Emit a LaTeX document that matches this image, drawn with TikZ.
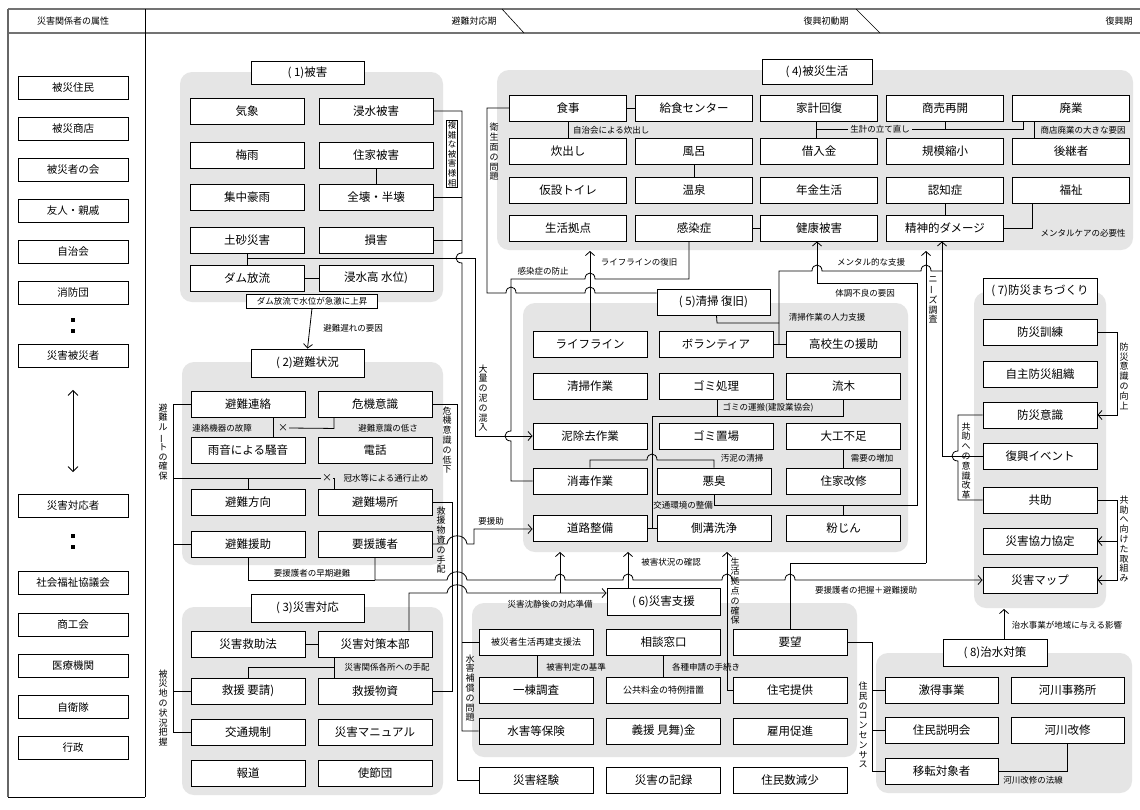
\documentclass[tikz,border=0pt]{standalone}
\usepackage{fontspec}
\setmainfont{Noto Sans CJK JP}
\usetikzlibrary{arrows.meta}
\begin{document}
\begin{tikzpicture}[x=1pt,y=-1pt,
  bx/.style={draw, fill=white, line width=0.9pt, minimum width=114pt, minimum height=26pt, inner sep=1pt, font=\fontsize{11.5}{13}\selectfont},
  bx4/.style={bx, minimum width=117pt},
  sbx/.style={bx, font=\fontsize{9}{11}\selectfont},
  lb/.style={draw, fill=white, line width=0.8pt, minimum width=110pt, minimum height=23pt, inner sep=1pt, font=\fontsize{10.5}{12}\selectfont},
  grp/.style={fill=black!10, rounded corners=12pt},
  lab/.style={font=\fontsize{8.5}{10}\selectfont, inner sep=1pt},
  vl/.style={font=\fontsize{9}{9.8}\selectfont, inner sep=1pt, align=center},
  ln/.style={line width=0.8pt},
  ar/.style={ln, -{Straight Barb[length=4pt,width=9pt]}},
  hb/.style n args={2}{insert path={-- ({#1-5},#2) .. controls ({#1-5},{#2-8}) and ({#1+5},{#2-8}) .. ({#1+5},#2)}},
  hbl/.style n args={2}{insert path={-- ({#1+5},#2) .. controls ({#1+5},{#2-8}) and ({#1-5},{#2-8}) .. ({#1-5},#2)}},
  hbw/.style n args={2}{insert path={-- ({#1-10},#2) .. controls ({#1-9},{#2-11}) and ({#1+9},{#2-11}) .. ({#1+10},#2)}},
  vb/.style n args={2}{insert path={-- (#1,{#2-5}) .. controls ({#1-8},{#2-5}) and ({#1-8},{#2+5}) .. (#1,{#2+5})}},
]
\useasboundingbox (0,0) rectangle (1140,809);
\fill[white] (0,0) rectangle (1140,809);

% ---------- frame and header ----------
\draw[line width=1.6pt, black!55] (8,9) -- (1140,9);
\draw[line width=1.6pt, black!55] (8,33) -- (1140,33);
\draw[line width=1.4pt, black!60] (8,9) -- (8,797);
\draw[ln] (145,9) -- (145,797);
\draw[ln] (8,797) -- (145,797);
\node[lab, font=\fontsize{9}{10}\selectfont] (h0) at (73,21) {災害関係者の属性};
\node[lab, font=\fontsize{9}{10}\selectfont] (h1) at (474,21) {避難対応期};
\node[lab, font=\fontsize{9}{10}\selectfont] (h2) at (826,21) {復興初動期};
\node[lab, font=\fontsize{9}{10}\selectfont] (h3) at (1119,21) {復興期};
\draw[line width=0.6pt] (502,9) -- (524,33);
\draw[line width=0.6pt] (856,9) -- (880,33);

% ---------- left column ----------
\node[lb] (p1) at (73,88) {被災住民};
\node[lb] (p2) at (73,129) {被災商店};
\node[lb] (p3) at (73,170) {被災者の会};
\node[lb] (p4) at (73,211) {友人・親戚};
\node[lb] (p5) at (73,252) {自治会};
\node[lb] (p6) at (73,293) {消防団};
\fill (71,318) rectangle (75,322);
\fill (71,329) rectangle (75,333);
\node[lb] (p7) at (73,356) {災害被災者};
\node[lb] (p8) at (73,506) {災害対応者};
\fill (71,534) rectangle (75,538);
\fill (71,545) rectangle (75,549);
\node[lb] (p9) at (73,583) {社会福祉協議会};
\node[lb] (p10) at (73,625) {商工会};
\node[lb] (p11) at (73,666) {医療機関};
\node[lb] (p12) at (73,707) {自衛隊};
\node[lb] (p13) at (73,748) {行政};
\draw[ln, {Straight Barb[length=5pt,width=10pt]}-{Straight Barb[length=5pt,width=10pt]}] ([yshift=-22pt]p7.south) -- ([yshift=22pt]p8.north);

% ---------- group backgrounds ----------
\path[grp] (180,72) rectangle (443,302);
\path[grp] (182,362) rectangle (443,565);
\path[grp] (182,607) rectangle (443,795);
\path[grp] (497,70) rectangle (1133,250);
\path[grp] (523,303) rectangle (908,552);
\path[grp] (472,603) rectangle (857,757);
\path[grp] (974,292) rectangle (1106,608);
\path[grp] (876,653) rectangle (1132,793);

% ---------- (1) ----------
\node[bx, minimum width=113pt, minimum height=23pt] (t1) at (307.5,73) {( 1)被害};
\node[bx] (kisho) at (247,111) {気象};
\node[bx] (shinsui) at (376,111) {浸水被害};
\node[bx] (baiu) at (247,155) {梅雨};
\node[bx] (jyuka) at (376,155) {住家被害};
\node[bx] (shuchu) at (247,197) {集中豪雨};
\node[bx] (zenkai) at (376,197) {全壊・半壊};
\node[bx] (dosha) at (247,240) {土砂災害};
\node[bx] (songai) at (376,240) {損害};
\node[bx] (dam) at (247,278) {ダム放流};
\node[bx] (suii) at (376,278) {浸水高 水位)};
\node[draw, fill=white, line width=0.7pt, lab, minimum width=131pt, minimum height=14pt] (damlab) at (312,301) {ダム放流で水位が急激に上昇};
\node[vl, draw, fill=white, line width=0.6pt, font=\fontsize{8.5}{9.6}\selectfont] (fukuzatsu) at (452,154) {複\\雑\\な\\被\\害\\様\\相};

% ---------- (2) ----------
\node[bx, minimum width=113pt, minimum height=28pt] (t2) at (307.5,363) {( 2)避難状況};
\node[bx] (renraku) at (248,404) {避難連絡};
\node[bx] (kiki) at (375,404) {危機意識};
\node[bx] (amaoto) at (248,450) {雨音による騒音};
\node[bx] (denwa) at (375,450) {電話};
\node[bx] (hoko) at (248,502) {避難方向};
\node[bx] (basho) at (375,502) {避難場所};
\node[bx] (enjo) at (248,544) {避難援助};
\node[bx] (yoengo) at (375,544) {要援護者};
\node[lab, font=\fontsize{10}{10}\selectfont] (x1) at (283,428) {×};
\node[lab, font=\fontsize{10}{10}\selectfont] (x2) at (327,478) {×};

% ---------- (3) ----------
\node[bx, minimum width=113pt, minimum height=28pt] (t3) at (307.5,608) {( 3)災害対応};
\node[bx] (kyujoho) at (248,644) {災害救助法};
\node[bx] (honbu) at (375,644) {災害対策本部};
\node[bx] (yosei) at (248,691) {救援 要請)};
\node[bx] (busshi) at (375,691) {救援物資};
\node[bx] (kotsu) at (248,732) {交通規制};
\node[bx] (manual) at (375,732) {災害マニュアル};
\node[bx] (hodo) at (248,773) {報道};
\node[bx] (shisetsu) at (375,773) {使節団};

% ---------- (4) ----------
\node[bx, minimum width=110pt, minimum height=25pt] (t4) at (817,71.5) {( 4)被災生活};
\node[bx4] (shokuji) at (568,108) {食事};
\node[bx4] (kyushoku) at (694,108) {給食センター};
\node[bx4] (kakei) at (819,108) {家計回復};
\node[bx4] (shobai) at (945,108) {商売再開};
\node[bx4] (haigyo) at (1071,108) {廃業};
\node[bx4] (takidashi) at (568,151) {炊出し};
\node[bx4] (furo) at (694,151) {風呂};
\node[bx4] (kariire) at (819,151) {借入金};
\node[bx4] (kibo) at (945,151) {規模縮小};
\node[bx4] (koukei) at (1071,151) {後継者};
\node[bx4] (kasetsu) at (568,190) {仮設トイレ};
\node[bx4] (onsen) at (694,190) {温泉};
\node[bx4] (nenkin) at (819,190) {年金生活};
\node[bx4] (ninchi) at (945,190) {認知症};
\node[bx4] (fukushi) at (1071,190) {福祉};
\node[bx4] (kyoten) at (568,228) {生活拠点};
\node[bx4] (kansen) at (694,228) {感染症};
\node[bx4] (kenko) at (819,228) {健康被害};
\node[bx4] (seishin) at (945,228) {精神的ダメージ};

% ---------- (5) ----------
\node[bx, minimum width=113pt] (t5) at (713.5,302) {( 5)清掃 復旧)};
\node[bx] (lifeline) at (590,344) {ライフライン};
\node[bx] (volunteer) at (716,344) {ボランティア};
\node[bx] (koukou) at (843.5,344) {高校生の援助};
\node[bx] (seiso) at (590,386) {清掃作業};
\node[bx] (gomi) at (716,386) {ゴミ処理};
\node[bx] (ryuboku) at (843.5,386) {流木};
\node[bx] (doro) at (590,436) {泥除去作業};
\node[bx] (okiba) at (716,436) {ゴミ置場};
\node[bx] (daiku) at (843.5,436) {大工不足};
\node[bx] (shodoku) at (590,481) {消毒作業};
\node[bx] (akushu) at (714,481) {悪臭};
\node[bx] (kaishu5) at (843.5,481) {住家改修};
\node[bx] (doroseibi) at (590,528) {道路整備};
\node[bx] (sokko) at (714,528) {側溝洗浄};
\node[bx] (funjin) at (843.5,528) {粉じん};

% ---------- (6) ----------
\node[bx, minimum width=113pt, minimum height=27pt] (t6) at (663.5,601.5) {( 6)災害支援};
\node[sbx] (saiken) at (536,642) {被災者生活再建支援法};
\node[bx] (sodan) at (663.5,642) {相談窓口};
\node[bx] (yobo) at (790,642) {要望};
\node[bx] (ittou) at (536,690) {一棟調査};
\node[sbx] (koukyo) at (663.5,690) {公共料金の特例措置};
\node[bx] (jutaku) at (790,690) {住宅提供};
\node[bx] (suigai) at (536,731) {水害等保険};
\node[bx] (gien) at (663.5,731) {義援 見舞)金};
\node[bx] (koyo) at (790,731) {雇用促進};
\node[bx] (keiken) at (536,780) {災害経験};
\node[bx] (kiroku) at (663.5,780) {災害の記録};
\node[bx] (genshou) at (790,780) {住民数減少};

% ---------- (7) ----------
\node[bx] (t7) at (1040,291) {( 7)防災まちづくり};
\node[bx] (kunren) at (1040,332) {防災訓練};
\node[bx] (jishu) at (1040,374) {自主防災組織};
\node[bx] (ishiki) at (1040,415) {防災意識};
\node[bx] (event) at (1040,456) {復興イベント};
\node[bx] (kyojo) at (1040,500) {共助};
\node[bx] (kyoryoku) at (1040,541) {災害協力協定};
\node[bx] (smap) at (1040,580) {災害マップ};

% ---------- (8) ----------
\node[bx, minimum width=104pt, minimum height=27pt] (t8) at (995,652.5) {( 8)治水対策};
\node[bx, minimum width=113pt] (gekitoku) at (941.5,690) {激得事業};
\node[bx, minimum width=113pt] (jimusho) at (1067.5,690) {河川事務所};
\node[bx, minimum width=113pt] (setsumei) at (941.5,730) {住民説明会};
\node[bx, minimum width=113pt] (kaishu8) at (1067.5,730) {河川改修};
\node[bx, minimum width=113pt] (iten) at (941.5,771) {移転対象者};

% ================= connectors =================
% (1)
\draw[ln] (jyuka) -- (zenkai);
\draw[ln] (dam) -- (suii);
\draw[ln] (dosha) -- (dam);
\draw[ln] (shinsui.east) -- (462,111) [vb={462}{258}] -- (462,731) -- (suigai.west);
\draw[ln] (462,642) -- (saiken.west);
\draw[ln] (zenkai.east) -- (462,197);
\draw[ln] (songai.east) -- (462,240);
\draw[ar] (247,258) -- (475,258) -- (475,436) -- (doro.west);
\draw[ar] (damlab.south) -- (t2.north);
\node[lab] (l_okure) at (353,328) {避難遅れの要因};
\node[vl] (l_doro) at (483,398) {大\\量\\の\\泥\\の\\混\\入};

% (2)
\draw[ln] ([xshift=25pt]renraku.south) -- ([xshift=25pt]amaoto.north);
\draw[ln] ([xshift=-41pt]kiki.south) -- ++(0,11) -- (x1.east);
\node[lab] (l_kosho) at (222,428) {連絡機器の故障};
\node[lab] (l_hikusa) at (388,428) {避難意識の低さ};
\draw[ln] (renraku.west) -- (173,404) -- (173,732) -- (kotsu.west);
\draw[ln] (173,544) -- (enjo.west);
\draw[ln] (173,691) -- (yosei.west);
\draw[ln] (173,478) -- (x2.west);
\draw[ln] (hoko.north) -- (248,478);
\draw[ln] (x2.east) -- (334,478) -- ([xshift=-41pt]basho.north);
\node[lab] (l_kansui) at (386,478) {冠水等による通行止め};
\node[vl] (l_route) at (163,442) {避\\難\\ル\\\rotatebox[origin=c]{90}{ー}\\ト\\の\\確\\保};
\node[vl] (l_jokyo) at (163,708) {被\\災\\地\\の\\状\\況\\把\\握};
\draw[ln] (kiki.east) -- (457,404) -- (457,780) -- (keiken.west);
\node[vl] (l_teika) at (447,440) {危\\機\\意\\識\\の\\低\\下};
\draw[ln] (basho.east) -- (452,502) -- (452,691) -- (busshi.east);
\node[vl] (l_tehai) at (441,540) {救\\援\\物\\資\\の\\手\\配};
\draw[ar] (yoengo.east) -- (447,544) [hbw={457}{544}] -- (474,544) -- (474,529) -- (doroseibi.west |- 474,529) ;
\node[lab] (l_yoenjo) at (491,521) {要援助};
\draw[ln] (enjo.south) |- (375,580);
\draw[ar] (yoengo.south) -- (375,580) [hbw={457}{580}] [hb={560}{580}] [hb={628}{580}] [hb={727}{580}] [hb={790}{580}] -- (smap.west);
\node[lab] (l_soki) at (312,573) {要援護者の早期避難};
\node[lab] (l_haaku) at (866,590) {要援護者の把握＋避難援助};

% (3)
\draw[ln] (kyujoho) -- (honbu);
\draw[ln] ([xshift=-41pt]honbu.south) -- ([xshift=-41pt]busshi.north);
\draw[ln] (334,667) -- (248,667) -- (yosei.north);
\node[lab] (l_kakusho) at (387,667) {災害関係各所への手配};
\draw[ar] ([xshift=34pt]honbu.north) -- (409,593) [hbw={457}{593}] -- ([yshift=8.5pt]t6.west);
\draw[ar] (560,593) -- (560,552);
\node[lab] (l_junbi) at (550,604) {災害沈静後の対応準備};

% (4)
\draw[ln] (shokuji) -- (kyushoku);
\draw[ln] (shokuji) -- (takidashi);
\node[lab, anchor=west] (l_jichi) at (572,130) {自治会による炊出し};
\draw[ln] ([xshift=-3pt]kakei.south) -- ([xshift=-3pt]kariire.north);
\draw[ln] (816,129) -- (848,129);
\node[lab] (l_seikei) at (880,129) {生計の立て直し};
\draw[ln] (912,129) -- (1023,129) -- ([xshift=-48pt]haigyo.south);
\draw[ln] (shobai.south) -- (945,129);
\draw[ln] ([xshift=-37pt]haigyo.south) -- ([xshift=-37pt]koukei.north);
\node[lab] (l_haigyo) at (1083,130) {商店廃業の大きな要因};
\draw[ln] (furo) -- (onsen);
\draw[ln] (kansen) -- (kenko);
\draw[ln] (ninchi) -- (seishin);
\draw[ln] (seishin.east) -- (1032,228) -- ([xshift=-39pt]fukushi.south);
\node[lab] (l_care) at (1083,233) {メンタルケアの必要性};
\draw[ln] (shokuji.west) -- (487,108) -- (487,293) [hb={511}{293}] [hb={590}{293}] -- ([yshift=9pt]t5.west);
\node[vl] (l_eisei) at (494,152) {衛\\生\\面\\の\\問\\題};
\draw[ln] ([xshift=-5pt]kansen.south) -- (689,279) [hbl={590}{279}] -- (511,279) [vb={511}{436}] -- (511,481) -- (shodoku.west);
\node[lab] (l_boshi) at (543,271) {感染症の防止};
\draw[ar] (lifeline.north) -- (590,251);
\node[lab] (l_fukkyu) at (639,262) {ライフラインの復旧};

% (5)
\draw[ln] ([xshift=3pt]t5.south) -- (717,323) -- (779,323);
\draw[ln] (volunteer) -- (koukou);
\draw[ln] (779,344) -- (779,271) [hb={817}{271}] [hb={926}{271}] -- (942,271);
\node[lab] (l_jinryoku) at (827,317) {清掃作業の人力支援};
\node[lab] (l_mental) at (871,262) {メンタル的な支援};
\draw[ln] ([xshift=1pt]gomi.south) -- (717,416);
\draw[ln] (ryuboku.south) -- (843.5,416) -- (652,416) -- (652,528);
\draw[ln] (doroseibi) -- (sokko);
\node[lab] (l_unpan) at (768,408) {ゴミの運搬(建設業協会)};
\draw[ln] (shodoku.north) -- (590,460) [hb={652}{460}] -- (714,460) -- (akushu.north);
\node[lab] (l_odei) at (742,458) {汚泥の清掃};
\draw[ln] (daiku) -- (kaishu5);
\node[lab] (l_juyo) at (872,458) {需要の増加};
\draw[ln] (akushu.south) -- (714,505) -- (917,505) -- (917,283) -- (817,283);
\draw[ar] (817,283) -- ([xshift=-2pt]kenko.south);
\draw[ln] (funjin.north) -- (843.5,505);
\node[lab] (l_kotsu) at (683,505) {交通環境の整備};
\node[lab] (l_taicho) at (865,293) {体調不良の要因};

% (6)
\draw[ln] ([xshift=1pt]saiken.south) -- ([xshift=1pt]ittou.north);
\node[lab] (l_hantei) at (576,667) {被害判定の基準};
\draw[ln] (sodan) -- (koukyo);
\node[lab] (l_shinsei) at (706,667) {各種申請の手続き};
\draw[ar] ([xshift=-35.5pt]t6.north) -- (628,552);
\node[lab] (l_kakunin) at (671,562) {被害状況の確認};
\draw[ar] (jutaku.west) -- (727,690) -- (727,552);
\node[vl] (l_kyoten) at (735,591) {生\\活\\拠\\点\\の\\確\\保};
\node[vl] (l_hosho) at (470,688) {水\\害\\補\\償\\の\\問\\題};
\draw[ln] (yobo.north) -- (790,563) -- (926,563);
\draw[ar] (926,563) -- (926,251);
\node[vl] (l_needs) at (933,300) {ニ\\\rotatebox[origin=c]{90}{ー}\\ズ\\調\\査};
\draw[ln] (yobo.east) -- (872,642) -- (872,771) -- (iten.west);
\draw[ln] (872,690) -- (gekitoku.west);
\draw[ln] (872,730) -- (setsumei.west);
\node[vl] (l_consensus) at (863,725) {住\\民\\の\\コ\\ン\\セ\\ン\\サ\\ス};

% (7)
\draw[ar] (kunren.east) -- (1117,332) -- (1117,415) -- (ishiki.east);
\node[vl] (l_kojo) at (1124,376) {防\\災\\意\\識\\の\\向\\上};
\draw[ar] (kyojo.east) -- (1117,500) -- (1117,580) -- (smap.east);
\draw[ar] (1117,541) -- (kyoryoku.east);
\node[vl] (l_torikumi) at (1124,539) {共\\助\\へ\\向\\け\\た\\取\\組\\み};
\draw[ln] (ishiki.west) -- (958,415) [vb={958}{456}] -- (958,500) -- (kyojo.west);
\node[vl] (l_kaikaku) at (966,461) {共\\助\\へ\\の\\意\\識\\改\\革};
\draw[ar] (event.west) -- (942,456) -- ([xshift=-3pt]seishin.south);

% (8)
\draw[ln] (kaishu8.south) -- (1067.5,771) -- (iten.east);
\node[lab] (l_hosen) at (1033,780) {河川改修の法線};
\draw[ar] ([xshift=9pt]t8.north) -- (1004,609);
\node[lab] (l_eikyo) at (1067,625) {治水事業が地域に与える影響};
\end{tikzpicture}
\end{document}
